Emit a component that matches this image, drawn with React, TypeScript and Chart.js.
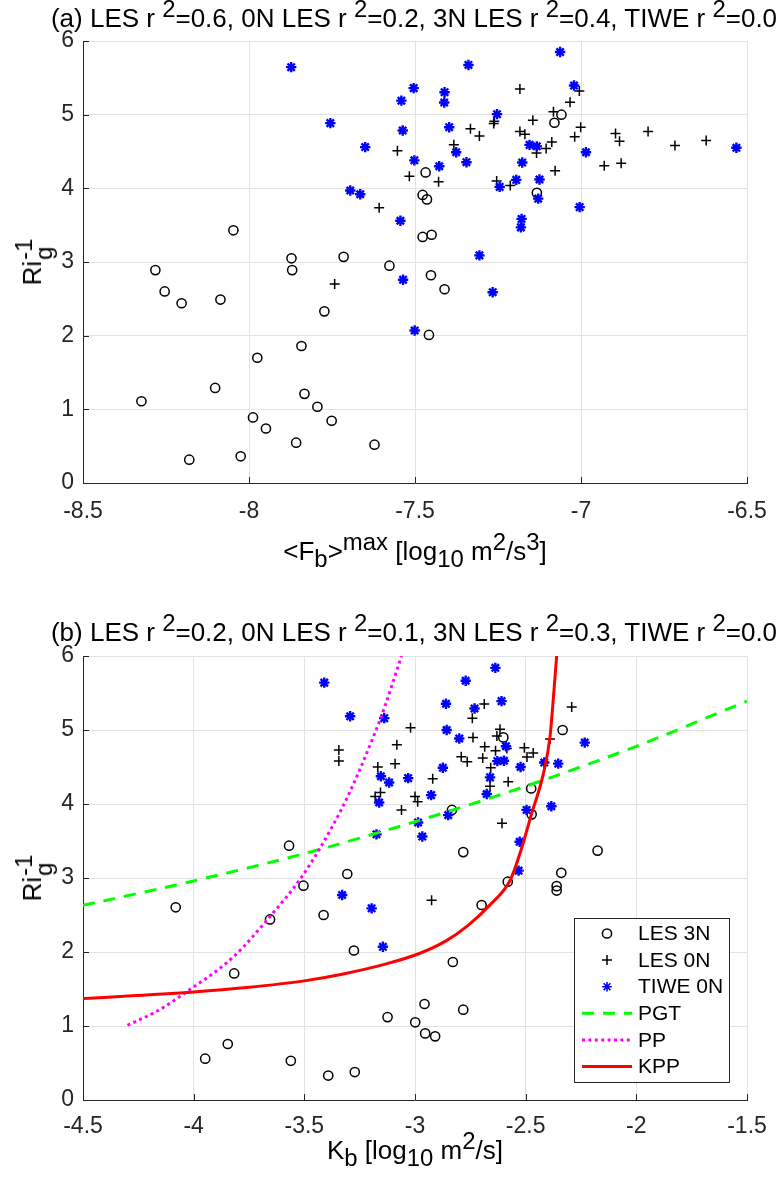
import React, { useEffect, useRef } from "react";
import { Chart, registerables } from "chart.js";
Chart.register(...registerables);

// ---------- data: panel (a) ----------
const xTicksA = [-8.5, -8, -7.5, -7, -6.5];
const xTicksB = [-4.5, -4, -3.5, -3, -2.5, -2, -1.5];
const yTicks = [0, 1, 2, 3, 4, 5, 6];

const les3nAX = [-8.282, -8.254, -8.203, -8.086, -7.872, -7.870, -7.715, -7.577, -7.773, -7.842, -7.975, -8.102, -8.324, -7.833, -7.794, -7.751, -7.988, -7.949, -7.858, -7.622, -8.180, -8.025, -8.047, -7.468, -7.477, -7.464, -7.477, -7.450, -7.133, -7.080, -7.059, -7.452, -7.411, -7.458];
const les3nAY = [2.89, 2.60, 2.44, 2.49, 3.05, 2.89, 3.07, 2.95, 2.33, 1.86, 1.70, 1.29, 1.11, 1.21, 1.035, 0.845, 0.89, 0.74, 0.547, 0.52, 0.316, 0.362, 3.43, 4.216, 3.91, 3.85, 3.34, 3.37, 3.94, 4.89, 5.00, 2.82, 2.63, 2.01];

const les0nAX = [-7.184, -7.005, -7.033, -7.083, -7.145, -7.261, -7.263, -7.333, -7.306, -7.184, -7.169, -7.001, -7.019, -6.896, -6.884, -6.798, -6.717, -6.623, -7.088, -7.105, -7.134, -7.383, -7.553, -7.517, -7.429, -7.254, -7.213, -7.078, -6.930, -6.879, -7.608, -7.742];
const les0nAY = [5.35, 5.32, 5.17, 5.04, 4.925, 4.91, 4.88, 4.81, 4.71, 4.77, 4.735, 4.83, 4.70, 4.745, 4.64, 4.77, 4.58, 4.65, 4.63, 4.54, 4.48, 4.59, 4.51, 4.165, 4.09, 4.10, 4.04, 4.24, 4.305, 4.34, 3.735, 2.70];

const tiweAX = [-7.873, -7.755, -7.650, -7.695, -7.665, -7.544, -7.541, -7.504, -7.537, -7.502, -7.063, -7.339, -7.411, -7.412, -7.021, -7.253, -7.397, -7.155, -7.133, -7.376, -6.985, -7.345, -7.177, -7.427, -6.532, -7.195, -7.125, -7.245, -7.129, -7.004, -7.179, -7.181, -7.306, -7.536, -7.266, -7.501];
const tiweAY = [5.645, 4.885, 4.56, 3.97, 3.92, 3.56, 5.19, 5.36, 4.785, 4.38, 5.85, 5.675, 5.305, 5.165, 5.395, 5.007, 4.83, 4.59, 4.57, 4.49, 4.49, 4.355, 4.35, 4.30, 4.55, 4.115, 4.12, 4.02, 3.86, 3.745, 3.585, 3.47, 3.09, 2.76, 2.59, 2.07];

// ---------- data: panel (b) ----------
const les3nBX = [-3.569, -3.306, -3.504, -4.081, -3.413, -3.655, -3.276, -3.817, -3.124, -2.999, -3.846, -3.948, -3.561, -3.392, -3.272, -2.699, -2.829, -2.957, -2.782, -2.954, -2.909, -2.581, -2.360, -2.360, -2.333, -2.601, -2.475, -2.833, -2.473, -2.782, -2.175, -2.339];
const les3nBY = [3.437, 3.054, 2.896, 2.604, 2.50, 2.44, 2.02, 1.71, 1.12, 1.05, 0.757, 0.558, 0.53, 0.33, 0.378, 2.635, 1.865, 1.297, 1.22, 0.90, 0.86, 2.95, 2.89, 2.83, 5.00, 4.90, 4.21, 3.92, 3.86, 3.35, 3.37, 3.07];

const les0nBX = [-3.020, -3.082, -3.344, -3.344, -3.168, -3.090, -3.156, -3.180, -3.000, -2.988, -3.061, -2.292, -2.687, -2.741, -2.616, -2.630, -2.390, -2.738, -2.685, -2.636, -2.585, -2.506, -2.466, -2.494, -2.791, -2.764, -2.694, -2.658, -2.920, -2.579, -2.661, -2.607, -2.925];
const les0nBY = [5.03, 4.80, 4.73, 4.58, 4.50, 4.545, 4.155, 4.10, 4.10, 4.03, 3.92, 5.31, 5.35, 5.16, 5.01, 4.92, 4.88, 4.90, 4.775, 4.72, 4.75, 4.76, 4.69, 4.635, 4.64, 4.57, 4.62, 4.49, 4.34, 4.30, 4.24, 3.74, 2.70];

const tiweBX = [-3.410, -3.293, -3.139, -3.154, -3.117, -3.031, -3.162, -3.174, -2.986, -3.329, -3.196, -3.145, -2.637, -2.771, -2.860, -2.609, -2.731, -2.857, -2.800, -2.589, -2.874, -2.628, -2.598, -2.523, -2.416, -2.353, -2.233, -2.661, -2.927, -2.676, -2.850, -2.967, -2.496, -2.384, -2.527, -2.532];
const tiweBY = [5.64, 5.185, 5.16, 4.375, 4.29, 4.35, 4.02, 3.59, 3.75, 2.77, 2.59, 2.07, 5.84, 5.665, 5.355, 5.39, 5.29, 5.00, 4.885, 4.78, 4.49, 4.58, 4.585, 4.50, 4.56, 4.545, 4.83, 4.36, 4.12, 4.135, 3.85, 3.56, 3.92, 3.97, 3.49, 3.10];

const pgtX = [-4.5, -4, -3.5, -3, -2.5, -2, -1.5];
const pgtY = [2.63, 2.96, 3.33, 3.76, 4.24, 4.78, 5.39];
const ppX = [-4.299, -4.16, -4.033, -3.822, -3.655, -3.52, -3.43, -3.309, -3.189, -3.136, -3.061];
const ppY = [1.01, 1.21, 1.46, 1.93, 2.48, 2.98, 3.40, 4.07, 4.90, 5.32, 6.0];
const kppX = [-4.5, -4.0, -3.76, -3.5, -3.33, -3.13, -2.98, -2.86, -2.76, -2.66, -2.57, -2.526, -2.473, -2.42, -2.39, -2.372, -2.36];
const kppY = [1.37, 1.46, 1.52, 1.61, 1.70, 1.84, 1.98, 2.15, 2.36, 2.64, 2.97, 3.33, 3.87, 4.41, 4.91, 5.54, 6.0];

const legendLabels = ["LES 3N", "LES 0N", "TIWE 0N", "PGT", "PP", "KPP"];

const FONT = '"Liberation Sans", Arial, Helvetica, sans-serif';
const AXIS = "#262626";
const GRID = "#e2e2e2";

const pts = (xs: number[], ys: number[]) => xs.map((x, i) => ({ x, y: ys[i] }));

const markerStyles: any = {
  circle: { pointStyle: "circle", pointRadius: 4.6, pointBorderWidth: 1.5, pointBorderColor: "#000", pointBackgroundColor: "rgba(0,0,0,0)" },
  cross: { pointStyle: "cross", pointRadius: 5, pointBorderWidth: 1.5, pointBorderColor: "#000", pointBackgroundColor: "#000" },
  star: { pointStyle: "star", pointRadius: 5.2, pointBorderWidth: 2.4, pointBorderColor: "#0000ff", pointBackgroundColor: "#0000ff" },
};

function scatterSets(a: { x: number[]; y: number[] }[]) {
  return [
    { label: legendLabels[0], data: pts(a[0].x, a[0].y), showLine: false, order: 5, ...markerStyles.circle },
    { label: legendLabels[1], data: pts(a[1].x, a[1].y), showLine: false, order: 4, ...markerStyles.cross },
    { label: legendLabels[2], data: pts(a[2].x, a[2].y), showLine: false, order: 3, ...markerStyles.star },
  ];
}

const inwardTicks = {
  id: "inwardTicks",
  afterDraw(chart: any) {
    const { ctx, chartArea: a, scales } = chart;
    ctx.save();
    ctx.strokeStyle = AXIS;
    ctx.lineWidth = 1;
    ctx.beginPath();
    scales.x.ticks.forEach((t: any) => {
      const px = Math.round(scales.x.getPixelForValue(t.value)) + 0.5;
      ctx.moveTo(px, a.bottom);
      ctx.lineTo(px, a.bottom - 6);
    });
    scales.y.ticks.forEach((t: any) => {
      const py = Math.round(scales.y.getPixelForValue(t.value)) + 0.5;
      ctx.moveTo(a.left, py);
      ctx.lineTo(a.left + 6, py);
    });
    ctx.stroke();
    ctx.restore();
  },
};

function drawMarker(ctx: any, style: string, x: number, y: number) {
  ctx.beginPath();
  if (style === "circle") {
    ctx.strokeStyle = "#000";
    ctx.lineWidth = 1.5;
    ctx.arc(x, y, 4.6, 0, Math.PI * 2);
  } else if (style === "cross") {
    ctx.strokeStyle = "#000";
    ctx.lineWidth = 1.5;
    ctx.moveTo(x - 5, y); ctx.lineTo(x + 5, y);
    ctx.moveTo(x, y - 5); ctx.lineTo(x, y + 5);
  } else {
    ctx.strokeStyle = "#0000ff";
    ctx.lineWidth = 1.6;
    const r = 4.8, d = r * Math.SQRT1_2;
    ctx.moveTo(x - r, y); ctx.lineTo(x + r, y);
    ctx.moveTo(x, y - r); ctx.lineTo(x, y + r);
    ctx.moveTo(x - d, y - d); ctx.lineTo(x + d, y + d);
    ctx.moveTo(x - d, y + d); ctx.lineTo(x + d, y - d);
  }
  ctx.stroke();
}

const matLegend = {
  id: "matLegend",
  afterDraw(chart: any) {
    const { ctx, chartArea: a } = chart;
    const w = 155, h = 164;
    const bx = a.right - 18 - w, by = a.bottom - 18 - h;
    ctx.save();
    ctx.fillStyle = "#fff";
    ctx.fillRect(bx, by, w, h);
    ctx.strokeStyle = AXIS;
    ctx.lineWidth = 1;
    ctx.strokeRect(Math.round(bx) + 0.5, Math.round(by) + 0.5, w, h);
    const styles = ["circle", "cross", "star"];
    const lineSets = [
      { color: "#00ff00", dash: [12, 9] },
      { color: "#ff00ff", dash: [3, 3.4] },
      { color: "#ff0000", dash: [] as number[] },
    ];
    ctx.font = `21px ${FONT}`;
    ctx.textBaseline = "middle";
    ctx.textAlign = "left";
    legendLabels.forEach((lab, i) => {
      const ry = by + 15.5 + i * 26.6;
      if (i < 3) {
        drawMarker(ctx, styles[i], bx + 33, ry);
      } else {
        const ls = lineSets[i - 3];
        ctx.beginPath();
        ctx.setLineDash(ls.dash);
        ctx.strokeStyle = ls.color;
        ctx.lineWidth = 3;
        ctx.moveTo(bx + 8, ry);
        ctx.lineTo(bx + 58, ry);
        ctx.stroke();
        ctx.setLineDash([]);
      }
      ctx.fillStyle = "#000";
      ctx.fillText(lab, bx + 64, ry + 1);
    });
    ctx.restore();
  },
};

function baseOptions(xmin: number, xmax: number, xTicks: number[], xAxisH: number, topPad: number, tickPad: number) {
  return {
    animation: false,
    responsive: false,
    maintainAspectRatio: false,
    layout: { padding: { left: 0, right: 30, top: topPad, bottom: 0 } },
    plugins: { legend: { display: false }, tooltip: { enabled: false }, title: { display: false } },
    scales: {
      x: {
        type: "linear",
        min: xmin,
        max: xmax,
        afterBuildTicks: (s: any) => { s.ticks = xTicks.map((v) => ({ value: v })); },
        afterFit: (s: any) => { s.height = xAxisH; s.paddingLeft = 0; s.paddingRight = 0; },
        grid: { color: GRID, drawTicks: false, lineWidth: 1 },
        border: { color: AXIS, width: 1 },
        ticks: { color: AXIS, font: { family: FONT, size: 23 }, padding: tickPad, maxRotation: 0, autoSkip: false, callback: (v: any) => String(v) },
      },
      y: {
        type: "linear",
        min: 0,
        max: 6,
        afterBuildTicks: (s: any) => { s.ticks = yTicks.map((v) => ({ value: v })); },
        afterFit: (s: any) => { s.width = 83; s.paddingTop = 0; s.paddingBottom = 0; },
        grid: { color: GRID, drawTicks: false, lineWidth: 1 },
        border: { color: AXIS, width: 1 },
        ticks: { color: AXIS, font: { family: FONT, size: 23 }, padding: 9, autoSkip: false, callback: (v: any) => String(v) },
      },
    },
  };
}

const sup = (t: string) => <span style={{ position: "relative", top: "-0.42em", fontSize: "0.92em" }}>{t}</span>;
const sub = (t: string) => <span style={{ position: "relative", top: "0.3em", fontSize: "0.92em" }}>{t}</span>;

function YLabel({ cy }: { cy: number }) {
  return (
    <div style={{ position: "absolute", left: 34, top: cy, transform: "translate(-50%,-50%) rotate(-90deg)", whiteSpace: "nowrap", fontSize: 26, lineHeight: "26px", color: "#000" }}>
      <span>Ri</span>
      <span style={{ display: "inline-flex", flexDirection: "column", verticalAlign: "middle", fontSize: "0.92em", lineHeight: "20px", marginLeft: 1 }}>
        <span>-1</span>
        <span>g</span>
      </span>
    </div>
  );
}

export default function App() {
  const refA = useRef<HTMLCanvasElement>(null);
  const refB = useRef<HTMLCanvasElement>(null);

  useEffect(() => {
    const chartA = new Chart(refA.current as HTMLCanvasElement, {
      type: "scatter",
      data: {
        datasets: scatterSets([
          { x: les3nAX, y: les3nAY },
          { x: les0nAX, y: les0nAY },
          { x: tiweAX, y: tiweAY },
        ]) as any,
      },
      options: baseOptions(-8.5, -6.5, xTicksA, 117, 41, 15) as any,
      plugins: [inwardTicks],
    });
    const chartB = new Chart(refB.current as HTMLCanvasElement, {
      type: "scatter",
      data: {
        datasets: [
          ...scatterSets([
            { x: les3nBX, y: les3nBY },
            { x: les0nBX, y: les0nBY },
            { x: tiweBX, y: tiweBY },
          ]),
          { label: legendLabels[3], data: pts(pgtX, pgtY), showLine: true, pointRadius: 0, borderColor: "#00ff00", borderWidth: 3, borderDash: [12, 9], order: 2, tension: 0.3 },
          { label: legendLabels[4], data: pts(ppX, ppY), showLine: true, pointRadius: 0, borderColor: "#ff00ff", borderWidth: 3, borderDash: [3, 3.4], order: 1, cubicInterpolationMode: "monotone" },
          { label: legendLabels[5], data: pts(kppX, kppY), showLine: true, pointRadius: 0, borderColor: "#ff0000", borderWidth: 3, order: 0, cubicInterpolationMode: "monotone" },
        ] as any,
      },
      options: baseOptions(-4.5, -1.5, xTicksB, 85, 56, 13) as any,
      plugins: [inwardTicks, matLegend],
    });
    return () => {
      chartA.destroy();
      chartB.destroy();
    };
  }, []);

  const textBase: React.CSSProperties = { position: "absolute", whiteSpace: "nowrap", fontSize: 26, lineHeight: "26px", color: "#000" };

  return (
    <div style={{ position: "absolute", left: 0, top: 0, width: 777, height: 1185, overflow: "hidden", background: "#fff", fontFamily: FONT }}>
      <canvas ref={refA} width={777} height={600} style={{ position: "absolute", left: 0, top: 0, width: 777, height: 600 }} />
      <canvas ref={refB} width={777} height={585} style={{ position: "absolute", left: 0, top: 600, width: 777, height: 585 }} />

      <div style={{ ...textBase, left: 414, top: 5, transform: "translateX(-50%)" }}>
        (a) LES r {sup("2")}=0.6, 0N LES r {sup("2")}=0.2, 3N LES r {sup("2")}=0.4, TIWE r {sup("2")}=0.0
      </div>
      <div style={{ ...textBase, left: 414, top: 619, transform: "translateX(-50%)" }}>
        (b) LES r {sup("2")}=0.2, 0N LES r {sup("2")}=0.1, 3N LES r {sup("2")}=0.3, TIWE r {sup("2")}=0.0
      </div>

      <div style={{ ...textBase, left: 415, top: 538, transform: "translateX(-50%)" }}>
        &lt;F{sub("b")}&gt;{sup("max")} [log{sub("10")} m{sup("2")}/s{sup("3")}]
      </div>
      <div style={{ ...textBase, left: 415, top: 1137, transform: "translateX(-50%)" }}>
        K{sub("b")} [log{sub("10")} m{sup("2")}/s]
      </div>

      <YLabel cy={262} />
      <YLabel cy={878} />
    </div>
  );
}
